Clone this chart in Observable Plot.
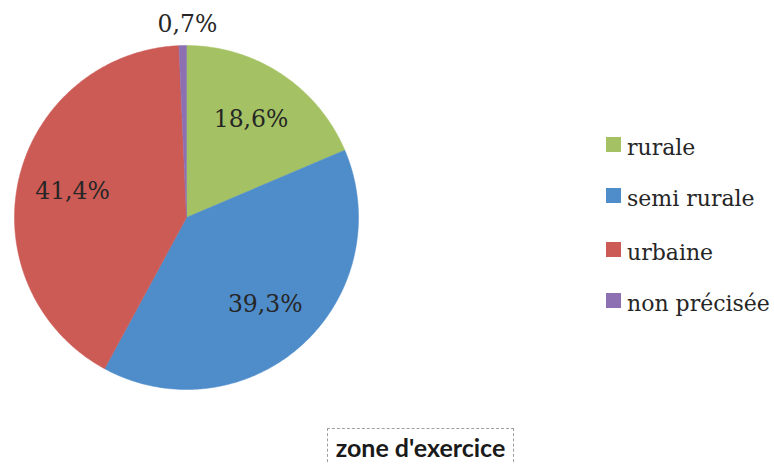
<!DOCTYPE html>
<html><head><meta charset="utf-8">
<script src="https://cdn.jsdelivr.net/npm/d3@7"></script>
<script src="https://cdn.jsdelivr.net/npm/@observablehq/plot@0.6"></script>
<style>
body{margin:0;background:#fff;}
#wrap{position:relative;width:774px;height:464px;overflow:hidden;}
#wrap svg{position:absolute;left:0;top:0;}
.lg{position:absolute;left:606px;font-family:"DejaVu Serif";font-size:22px;color:#262626;line-height:1;white-space:nowrap;}
.lg .sw{position:absolute;left:0;width:15px;height:15px;}
.lg .tx{position:absolute;left:21px;}
#title{position:absolute;left:327px;top:428px;width:187px;height:60px;border:1px dashed #a0a0a0;box-sizing:border-box;
 font-family:Lato;font-weight:bold;font-size:25px;line-height:30px;color:#1a1a1a;text-align:center;padding-top:3px;white-space:nowrap;}
</style></head><body><div id="wrap"></div>
<script>
const categories = ["rurale", "semi rurale", "urbaine", "non précisée"];
const values = [18.6, 39.3, 41.4, 0.7];
const valueLabels = ["18,6%", "39,3%", "41,4%", "0,7%"];
const colors = ["#A4C263", "#4F8CCA", "#CC5B55", "#8C70B1"];
const title = "zone d'exercice";

const data = categories.map((c, i) => ({cat: c, value: values[i], label: valueLabels[i]}));
const arcs = d3.pie().sort(null).value(d => d.value)(data);

const slicePts = [];
for (const a of arcs) {
  slicePts.push({cat: a.data.cat, x: 0, y: 0});
  const n = Math.max(2, Math.ceil((a.endAngle - a.startAngle) / 0.01));
  for (let k = 0; k <= n; k++) {
    const t = a.startAngle + (a.endAngle - a.startAngle) * k / n;
    slicePts.push({cat: a.data.cat, x: Math.sin(t), y: Math.cos(t)});
  }
  slicePts.push({cat: a.data.cat, x: 0, y: 0});
}
const labelPts = arcs.map(a => {
  const m = (a.startAngle + a.endAngle) / 2;
  const small = a.data.value < 5;
  const r = small ? 1.12 : 0.68;
  return {label: a.data.label, x: r * Math.sin(m) + (small ? 0.03 : 0), y: r * Math.cos(m)};
});

const W = 774, H = 464, cx = 186, cy = 217, R = 172;
const chart = Plot.plot({
  width: W, height: H, margin: 0,
  x: {domain: [-cx / R, (W - cx) / R], axis: null},
  y: {domain: [-(H - cy) / R, cy / R], axis: null},
  color: {domain: categories, range: colors},
  marks: [
    Plot.line(slicePts, {x: "x", y: "y", z: "cat", fill: "cat", stroke: "cat", strokeWidth: 0.5, curve: "linear"}),
    Plot.text(labelPts, {x: "x", y: "y", text: "label", fontSize: 23.5, fontFamily: "DejaVu Serif", fill: "#262626"})
  ]
});
const wrap = document.getElementById("wrap");
wrap.appendChild(chart);

const tops = [137, 188, 242, 293];
categories.forEach((c, i) => {
  const d = document.createElement("div");
  d.className = "lg";
  d.style.top = tops[i] + "px";
  d.innerHTML = `<div class="sw" style="background:${colors[i]}"></div><div class="tx" style="top:0px">${c}</div>`;
  wrap.appendChild(d);
});
const t = document.createElement("div");
t.id = "title";
t.textContent = title;
wrap.appendChild(t);
</script>
</body></html>
